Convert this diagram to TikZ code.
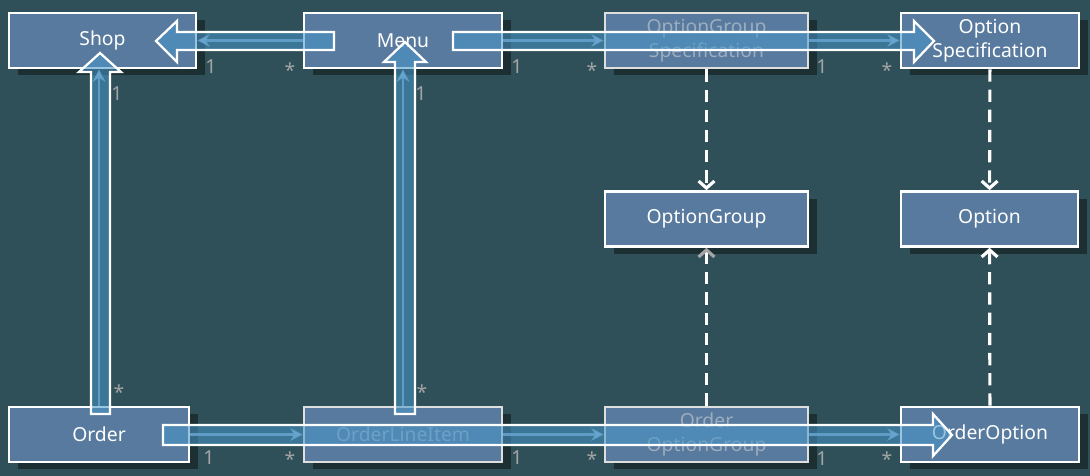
\documentclass[tikz,border=0pt]{standalone}
\usepackage{fontspec}
\setmainfont{Noto Sans}
\usepackage{xcolor}
\usetikzlibrary{arrows.meta,shadows}

\definecolor{bgteal}{HTML}{2F5058}
\definecolor{boxblue}{HTML}{587A9E}
\definecolor{dimtext}{HTML}{9CADBF}
\definecolor{multgrey}{HTML}{A4A4A4}
\definecolor{thinblue}{HTML}{8DB6D6}
\definecolor{bigblue}{HTML}{4897CA}

\tikzset{
  box/.style={draw=white, line width=1.5pt, fill=boxblue, text=white,
    minimum height=1.1cm, inner sep=0pt, align=center,
    font=\fontsize{11}{13.5}\selectfont,
    drop shadow={shadow xshift=5pt, shadow yshift=-4pt, opacity=0.4, fill=black}},
  dimbox/.style={box, draw=white!75!gray, text=dimtext},
  thinarrow/.style={draw=thinblue, line width=1.6pt, draw opacity=0.85,
    -{Stealth[length=7pt,width=7pt]}},
  dashassoc/.style={draw=white, line width=1.8pt, dash pattern=on 7pt off 4.5pt,
    -{Straight Barb[length=4pt,width=9pt]}},
  bigarrow/.style={draw=white, line width=1.3pt, fill=bigblue, fill opacity=0.55},
  mult/.style={text=multgrey, inner sep=0pt, font=\fontsize{11}{12}\selectfont}
}

\begin{document}
\begin{tikzpicture}[x=0.02cm, y=-0.02cm]
    % Background
    \fill[bgteal] (0,0) rectangle (1090,476);

    % Classes
    \node[box, minimum width=3.74cm] (shop) at (102.5,40.5) {Shop};
    \node[box, minimum width=3.96cm] (menu) at (403,40.5) {Menu};
    \node[dimbox, minimum width=4.06cm] (ogspec) at (706.5,40.5) {OptionGroup\\Specification};
    \node[box, minimum width=3.56cm] (ospec) at (990,40.5) {Option\\Specification};
    \node[box, minimum width=4.06cm] (ogroup) at (706.5,219) {OptionGroup};
    \node[box, minimum width=3.54cm] (option) at (989.5,219) {Option};
    \node[box, minimum width=3.6cm] (order) at (99,434.5) {Order};
    \node[dimbox, minimum width=3.96cm] (lineitem) at (403,434.5) {OrderLineItem};
    \node[dimbox, minimum width=4.06cm] (ordergroup) at (706.5,434.5) {Order\\OptionGroup};
    \node[box, minimum width=3.56cm] (orderoption) at (990,434.5) {OrderOption};

    % Dashed links
    \draw[dashassoc] (ogspec) -- (ogroup);
    \draw[dashassoc] (ospec) -- (option);
    \draw[dashassoc, -{Straight Barb[length=4pt,width=9pt,color=gray!70]}] (ordergroup) -- (ogroup);
    \draw[dashassoc] (orderoption) -- (option);

    % Associations
    \draw[thinarrow] (menu) -- (shop);
    \draw[thinarrow] (menu) -- (ogspec);
    \draw[thinarrow] (ogspec) -- (ospec);
    \draw[thinarrow] (order.north) -- (order.north |- shop.south);
    \draw[thinarrow] (lineitem) -- (menu);
    \draw[thinarrow] (order) -- (lineitem);
    \draw[thinarrow] (lineitem) -- (ordergroup);
    \draw[thinarrow] (ordergroup) -- (orderoption);

    % Highlight arrows
    \draw[bigarrow] (334,32) -- (177,32) -- (177,21) -- (156,41) -- (177,62) -- (177,50) -- (334,50) -- cycle;
    \draw[bigarrow] (453,32) -- (914,32) -- (914,21) -- (934,41) -- (914,62) -- (914,50) -- (453,50) -- cycle;
    \draw[bigarrow] (91,414) -- (91,72) -- (79,72) -- (100,53) -- (121,72) -- (110,72) -- (110,414) -- cycle;
    \draw[bigarrow] (395,414) -- (395,62) -- (384,62) -- (405,42) -- (426,62) -- (415,62) -- (415,414) -- cycle;
    \draw[bigarrow] (163,425) -- (933,425) -- (933,414) -- (952,435) -- (933,456) -- (933,445) -- (163,445) -- cycle;

    % Multiplicities
    \node[mult] (m1) at (211,67) {1};
    \node[mult] (m2) at (290,70) {*};
    \node[mult] (m3) at (517,67) {1};
    \node[mult] (m4) at (592,70) {*};
    \node[mult] (m5) at (822,67) {1};
    \node[mult] (m6) at (887,70) {*};
    \node[mult] (m7) at (117,94) {1};
    \node[mult] (m8) at (119,392) {*};
    \node[mult] (m9) at (421,94) {1};
    \node[mult] (m10) at (422,392) {*};
    \node[mult] (m11) at (209,458) {1};
    \node[mult] (m12) at (290,459) {*};
    \node[mult] (m13) at (517,458) {1};
    \node[mult] (m14) at (592,459) {*};
    \node[mult] (m15) at (822,459) {1};
    \node[mult] (m16) at (887,459) {*};
\end{tikzpicture}
\end{document}
